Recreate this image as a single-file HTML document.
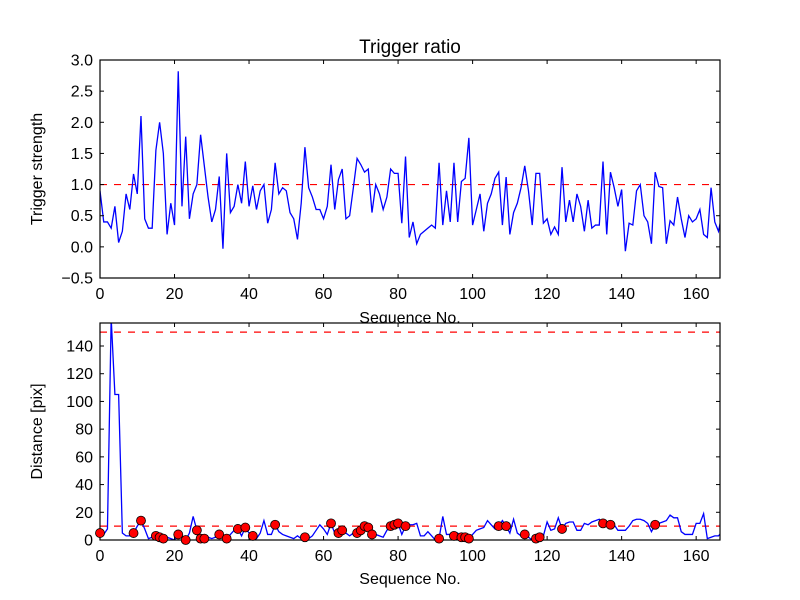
<!DOCTYPE html>
<html><head><meta charset="utf-8"><style>
html,body{margin:0;padding:0;background:#fff;}
svg{display:block;font-family:"Liberation Sans","DejaVu Sans",sans-serif;}
</style></head><body>
<svg id="fig" width="800" height="600" viewBox="0 0 800 600">
<rect width="800" height="600" fill="#fff"/>
</svg>
<script>
const ratio = [0.9,0.4,0.4,0.3,0.65,0.07,0.25,0.85,0.6,1.17,0.85,2.1,0.45,0.3,0.3,1.55,2.0,1.5,0.2,0.7,0.35,2.82,0.65,1.77,0.45,0.85,1.0,1.8,1.3,0.8,0.4,0.6,1.13,-0.03,1.5,0.55,0.65,1.0,0.7,1.37,0.65,0.98,0.6,0.9,1.0,0.38,0.6,1.35,0.85,0.95,0.9,0.55,0.45,0.12,0.7,1.6,0.95,0.8,0.6,0.6,0.45,0.65,1.32,0.6,1.08,1.25,0.45,0.5,0.95,1.42,1.32,1.2,1.25,0.55,1.0,0.85,0.6,0.8,1.25,1.18,1.18,0.38,1.45,0.15,0.4,0.05,0.2,0.25,0.3,0.35,0.3,1.35,0.35,0.9,0.4,1.35,0.4,1.05,1.1,1.75,0.35,0.6,0.85,0.25,0.7,0.85,1.1,1.2,0.35,1.12,0.2,0.55,0.7,0.95,1.3,0.9,0.35,1.18,1.18,0.38,0.45,0.2,0.32,0.2,1.28,0.4,0.75,0.4,0.85,0.65,0.25,0.75,0.3,0.35,0.35,1.37,0.2,1.2,0.95,0.65,0.92,-0.07,0.38,0.35,0.9,1.0,0.5,0.4,0.05,1.2,0.97,0.95,0.05,0.42,0.35,0.8,0.45,0.15,0.5,0.4,0.45,0.6,0.2,0.15,0.95,0.4,0.25,0.55];
const distance = [5,4,8,160,105,105,5,3,3,5,10,14,8,1,2,3,2,1,2,1,0,4,2,0,5,17,7,1,1,2,1,2,4,3,1,4,7,8,3,9,5,3,1,5,14,4,4,11,6,4,3,2,1,3,1,2,1,3,7,11,8,4,12,5,5,7,5,3,5,5,7,10,9,4,4,3,2,7,10,11,12,4,10,11,11,12,3,3,6,3,0,1,17,4,4,3,5,2,2,1,4,7,8,9,14,11,8,10,14,10,5,15,5,3,4,2,0,1,2,3,13,7,8,16,8,12,13,13,7,7,12,11,13,14,15,12,12,11,11,7,7,7,10,14,15,15,14,12,6,11,12,13,14,18,16,16,6,4,4,4,12,12,19,1,2,3,3,6];
const markerIdx = [0,9,11,15,16,17,21,23,26,27,28,32,34,37,39,41,47,55,62,64,65,69,70,71,72,73,78,79,80,82,91,95,97,98,99,107,109,114,117,118,124,135,137,149];
const xTicks = [0,20,40,60,80,100,120,140,160];
const yTicksTop = [-0.5,0,0.5,1.0,1.5,2.0,2.5,3.0];
const yTicksBot = [0,20,40,60,80,100,120,140];
const thrTop = [1.0];
const thrBot = [10,150];

const NS="http://www.w3.org/2000/svg";
const svg=document.getElementById('fig');
function el(tag,attrs,parent){const e=document.createElementNS(NS,tag);for(const k in attrs)e.setAttribute(k,attrs[k]);(parent||svg).appendChild(e);return e;}
const X0=100,X1=720,XMAX=166.4;
const sx=v=>X0+(v/XMAX)*(X1-X0);

function axes(name,top,bot,ymin,ymax,yticks,fmt,ylabel){
  const sy=v=>bot-(v-ymin)/(ymax-ymin)*(bot-top);
  const g=el('g',{});
  
  
  el('rect',{x:X0,y:top,width:X1-X0,height:bot-top,fill:'#fff'},g);
  const cid=name+'-clip';
  const cp=el('clipPath',{id:cid},g);
  el('rect',{x:X0,y:top,width:X1-X0,height:bot-top},cp);
  const plot=el('g',{'clip-path':'url(#'+cid+')'},g);
  xTicks.forEach(t=>{
    const x=sx(t);
    el('line',{x1:x,x2:x,y1:bot,y2:bot-4,stroke:'#000'},g);
    el('line',{x1:x,x2:x,y1:top,y2:top+4,stroke:'#000'},g);
    const tx=el('text',{x:x,y:bot+21,'text-anchor':'middle','font-size':'16'},g);
    tx.textContent=t;
    
    
  });
  yticks.forEach(t=>{
    const y=sy(t);
    el('line',{x1:X0,x2:X0+4,y1:y,y2:y,stroke:'#000'},g);
    el('line',{x1:X1,x2:X1-4,y1:y,y2:y,stroke:'#000'},g);
    const tx=el('text',{x:X0-7,y:y+5.5,'text-anchor':'end','font-size':'16'},g);
    tx.textContent=fmt(t);
    
    
  });
  el('rect',{x:X0,y:top,width:X1-X0,height:bot-top,fill:'none',stroke:'#000','stroke-width':1.2},g);
  const yl=el('text',{x:0,y:0,transform:`translate(${X0-58},${(top+bot)/2}) rotate(-90)`,'text-anchor':'middle','font-size':'16'},g);
  yl.textContent=ylabel;
  
  
  return {sy,plot,g};
}

// top
const A=axes('top',60,278,-0.5,3.0,yTicksTop,t=>t.toFixed(1).replace('-','\u2212'),'Trigger strength');
thrTop.forEach(v=>{const l=el('line',{x1:X0,x2:X1,y1:A.sy(v),y2:A.sy(v),stroke:'#f00','stroke-dasharray':'7,7','stroke-width':1.2},A.plot);
});
const p1=el('polyline',{points:ratio.map((v,i)=>sx(i)+','+A.sy(v)).join(' '),fill:'none',stroke:'#00f','stroke-width':1.3},A.plot);


const title=el('text',{x:410,y:53,'text-anchor':'middle','font-size':'19'});
title.textContent='Trigger ratio';


const xl1=el('text',{x:410,y:323,'text-anchor':'middle','font-size':'16'});
xl1.textContent='Sequence No.';



// bottom
const B=axes('bottom',323,540,0,156.6,yTicksBot,t=>String(t),'Distance [pix]');
thrBot.forEach(v=>{const l=el('line',{x1:X0,x2:X1,y1:B.sy(v),y2:B.sy(v),stroke:'#f00','stroke-dasharray':'7,7','stroke-width':1.2},B.plot);
});
const p2=el('polyline',{points:distance.map((v,i)=>sx(i)+','+B.sy(v)).join(' '),fill:'none',stroke:'#00f','stroke-width':1.3},B.plot);


markerIdx.forEach(i=>{
  const c=el('circle',{cx:sx(i),cy:B.sy(distance[i]),r:4.5,fill:'#f00',stroke:'#000','stroke-width':0.8},svg);
  
  
});
const xl2=el('text',{x:410,y:584,'text-anchor':'middle','font-size':'16'});
xl2.textContent='Sequence No.';


</script>
</body></html>
